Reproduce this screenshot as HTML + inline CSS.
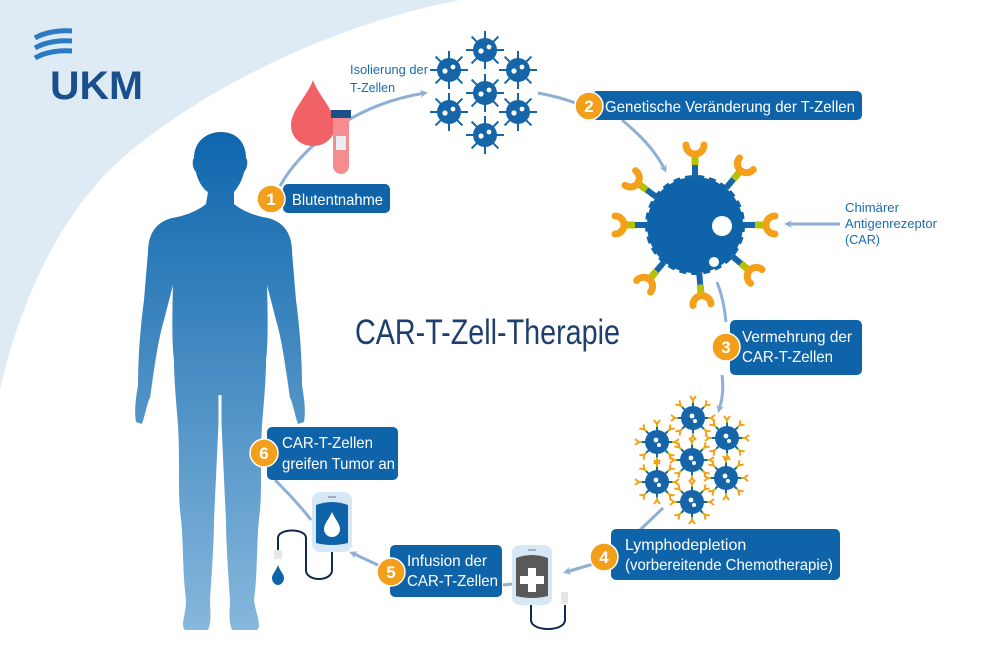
<!DOCTYPE html>
<html><head><meta charset="utf-8"><style>
html,body{margin:0;padding:0;background:#fff;}
svg{display:block;}
text{font-family:"Liberation Sans",sans-serif;}
.bt{fill:#fff;font-size:16px;}
.bn{fill:#fff;font-size:17px;font-weight:bold;}
.box{fill:#0f64a9;}
.badge{fill:#f2a01c;stroke:#fff;stroke-width:1.5;}
.ar{fill:none;stroke:#8eafd6;stroke-width:3;}
</style></head><body>
<svg width="1000" height="667" viewBox="0 0 1000 667" xmlns="http://www.w3.org/2000/svg">
<defs>
<linearGradient id="pg" x1="0" y1="0" x2="0" y2="1">
<stop offset="0" stop-color="#0e66ad"/><stop offset="1" stop-color="#86b7dc"/></linearGradient>
<marker id="ah" markerWidth="8" markerHeight="8" refX="5" refY="4" orient="auto" markerUnits="userSpaceOnUse">
<path d="M0,0 L8,4 L0,8 L3,4 Z" fill="#8eafd6"/></marker>
<g id="sc">
<g stroke="#1565a8" stroke-width="2">
<line x1="0" y1="-19" x2="0" y2="19"/><line x1="-19" y1="0" x2="19" y2="0"/>
<line x1="-13.4" y1="-13.4" x2="13.4" y2="13.4"/><line x1="13.4" y1="-13.4" x2="-13.4" y2="13.4"/>
</g>
<circle r="12" fill="#1565a8"/>
<circle cx="-4" cy="1" r="2.6" fill="#fff"/><circle cx="4" cy="-3" r="2.4" fill="#fff"/>
</g>
<g id="rc">
<path d="M0,-11 V-16" stroke="#1565a8" stroke-width="2"/>
<path d="M0,-15 V-18" stroke="#b5c200" stroke-width="2"/>
<path d="M-3,-22 L0,-18 L3,-22" stroke="#f5a01a" stroke-width="2" fill="none"/>
</g>
<g id="cc">
<use href="#rc"/><use href="#rc" transform="rotate(45)"/><use href="#rc" transform="rotate(90)"/><use href="#rc" transform="rotate(135)"/>
<use href="#rc" transform="rotate(180)"/><use href="#rc" transform="rotate(225)"/><use href="#rc" transform="rotate(270)"/><use href="#rc" transform="rotate(315)"/>
<circle r="12" fill="#1565a8"/>
<circle cx="-1" cy="-2" r="2.4" fill="#fff"/><circle cx="2" cy="3" r="2" fill="#fff"/>
</g>
<g id="rec">
<rect x="-3" y="-60" width="6" height="12" fill="#1565a8"/>
<rect x="-3.5" y="-70" width="7" height="10" fill="#b5c200"/>
<path d="M-9,-80 a9,9 0 0 0 18,0" stroke="#f5a01a" stroke-width="7" fill="none" stroke-linecap="round"/>
</g>
</defs>

<path d="M0,0 L460,0 C330,25 200,90 120,160 C60,215 20,300 0,390 Z" fill="#deebf5"/>

<g fill="none" stroke="#2b7bc4" stroke-width="5">
<path d="M35,38 C45,32 60,30 72,31"/><path d="M35,48 C45,42 60,40 72,41"/><path d="M35,58 C45,52 60,50 72,51"/>
</g>
<text x="50" y="99" font-size="40" font-weight="bold" fill="#1b4f8c" textLength="93" lengthAdjust="spacingAndGlyphs">UKM</text>

<path fill="url(#pg)" d="M221,132 C236,132 246,142 246,158 C248,160 248,168 244,172 C242,182 236,190 234,192 L234,204 C244,212 256,216 268,218 C284,222 292,234 292,252 L296,300 C300,330 302,360 302,385 C304,398 306,410 304,422 L298,424 C294,412 292,400 290,398 C286,370 282,340 276,320 L267,285 C268,320 268,345 266,360 C266,380 264,400 262,425 C260,460 262,490 260,510 C256,540 258,570 254,600 C256,615 262,625 257,630 L232,630 C228,620 230,610 230,600 C228,570 226,540 226,520 C224,480 222,430 220,395 C218,430 216,480 214,520 C214,540 212,570 210,600 C210,610 212,620 208,630 L185,630 C180,625 186,615 186,600 C182,570 184,540 180,510 C178,490 180,460 178,425 C176,400 174,380 174,360 C172,345 172,320 173,285 L164,320 C158,340 154,370 150,398 C148,400 146,412 142,424 L136,422 C134,410 136,398 138,385 C138,360 140,330 144,300 L148,252 C148,234 156,222 172,218 C184,216 196,212 206,204 L208,192 C204,190 198,182 196,172 C192,168 192,160 194,158 C194,142 206,132 221,132 Z"/>
<path d="M220,395 L220,630" stroke="#fff" stroke-width="3"/>

<path class="ar" d="M280,186 C300,150 350,105 425,93" marker-end="url(#ah)"/>
<path class="ar" d="M538,93 C555,96 568,100 578,104"/>
<path class="ar" d="M622,120 C640,135 655,150 665,170" marker-end="url(#ah)"/>
<path class="ar" d="M840,224 L787,224" marker-end="url(#ah)"/>
<path class="ar" d="M717,282 C722,295 725,310 726,322"/>
<path class="ar" d="M722,375 C724,390 722,400 719,410" marker-end="url(#ah)"/>
<path class="ar" d="M663,508 L640,530"/>
<path class="ar" d="M600,562 L566,572" marker-end="url(#ah)"/>
<path class="ar" d="M503,585 L512,584"/>
<path class="ar" d="M380,566 L352,553" marker-end="url(#ah)"/>
<path class="ar" d="M311,520 C300,505 285,490 275,480"/>

<path d="M313,80 C318,95 335,110 335,125 C335,138 325,146 313,146 C301,146 291,138 291,125 C291,110 308,95 313,80 Z" fill="#f06266"/>
<rect x="333" y="112" width="16" height="62" rx="8" fill="#f58c90"/>
<rect x="333" y="112" width="16" height="12" fill="#f58c90"/>
<rect x="331" y="110" width="20" height="8" fill="#1b4f8c"/>
<rect x="336" y="136" width="10" height="14" fill="#e8eef3"/>
<text x="350" y="74" font-size="13" fill="#1a6cb0" textLength="78" lengthAdjust="spacingAndGlyphs">Isolierung der</text>
<text x="350" y="92" font-size="13" fill="#1a6cb0" textLength="45" lengthAdjust="spacingAndGlyphs">T-Zellen</text>

<use href="#sc" x="485" y="50"/><use href="#sc" x="449" y="70"/><use href="#sc" x="518" y="70"/>
<use href="#sc" x="485" y="93"/><use href="#sc" x="449" y="112"/><use href="#sc" x="518" y="112"/>
<use href="#sc" x="485" y="135"/>

<g transform="translate(695,225)">
<use href="#rec"/><use href="#rec" transform="rotate(40)"/><use href="#rec" transform="rotate(90)"/><use href="#rec" transform="rotate(130)"/>
<use href="#rec" transform="rotate(175)"/><use href="#rec" transform="rotate(220)"/><use href="#rec" transform="rotate(270)"/><use href="#rec" transform="rotate(306)"/>
<circle r="48" fill="#0f64a9" stroke="#0f64a9" stroke-width="4" stroke-dasharray="7 5"/>
<circle cx="27" cy="1" r="10" fill="#fff"/>
<circle cx="19" cy="37" r="5" fill="#fff"/>
</g>
<text x="845" y="212" font-size="13" fill="#1a6cb0" textLength="54" lengthAdjust="spacingAndGlyphs">Chimärer</text>
<text x="845" y="228" font-size="13" fill="#1a6cb0" textLength="92" lengthAdjust="spacingAndGlyphs">Antigenrezeptor</text>
<text x="845" y="244" font-size="13" fill="#1a6cb0" textLength="35" lengthAdjust="spacingAndGlyphs">(CAR)</text>

<use href="#cc" x="693" y="418"/><use href="#cc" x="657" y="442"/><use href="#cc" x="727" y="438"/>
<use href="#cc" x="692" y="460"/><use href="#cc" x="657" y="482"/><use href="#cc" x="726" y="478"/>
<use href="#cc" x="692" y="502"/>

<text x="355" y="344" font-size="35" fill="#1d3e6e" textLength="265" lengthAdjust="spacingAndGlyphs">CAR-T-Zell-Therapie</text>

<g>
<rect x="512" y="545" width="40" height="60" rx="8" fill="#d6e8f5"/>
<rect x="528" y="549" width="8" height="2" fill="#aab"/>
<path d="M516,558 Q532,552 548,558 L548,596 Q532,600 516,596 Z" fill="#595959"/>
<path d="M528,568 h8 v8 h8 v8 h-8 v8 h-8 v-8 h-8 v-8 h8 Z" fill="#fff"/>
<path d="M531,605 V620 C531,632 565,632 565,620 V605" fill="none" stroke="#13284f" stroke-width="2"/>
<rect x="561" y="592" width="7" height="12" fill="#e6e6e6"/>
</g>
<g>
<rect x="312" y="492" width="40" height="60" rx="8" fill="#d6e8f5"/>
<rect x="328" y="496" width="8" height="2" fill="#aab"/>
<path d="M316,505 Q332,499 348,505 L348,543 Q332,547 316,543 Z" fill="#0f64a9"/>
<path d="M332,512 C335,519 340,524 340,529 C340,534 336,537 332,537 C328,537 324,534 324,529 C324,524 329,519 332,512 Z" fill="#fff"/>
<path d="M332,552 V570 C332,582 306,582 306,570 V538 C306,528 278,528 278,538 V550" fill="none" stroke="#13284f" stroke-width="2"/>
<rect x="274" y="550" width="8" height="9" fill="#e6e6e6"/>
<path d="M278,565 C280,571 284,574 284,578 C284,582 281,585 278,585 C275,585 272,582 272,578 C272,574 276,571 278,565 Z" fill="#0f64a9"/>
</g>

<rect class="box" x="283" y="184" width="107" height="29" rx="5"/>
<text class="bt" x="292" y="205" textLength="91" lengthAdjust="spacingAndGlyphs">Blutentnahme</text>
<circle class="badge" cx="271" cy="199" r="14"/><text class="bn" x="271" y="205" text-anchor="middle">1</text>

<rect class="box" x="592" y="91" width="270" height="29" rx="5"/>
<text class="bt" x="605" y="112" textLength="250" lengthAdjust="spacingAndGlyphs">Genetische Veränderung der T-Zellen</text>
<circle class="badge" cx="589" cy="106" r="14"/><text class="bn" x="589" y="112" text-anchor="middle">2</text>

<rect class="box" x="730" y="320" width="132" height="55" rx="5"/>
<text class="bt" x="742" y="342" textLength="110" lengthAdjust="spacingAndGlyphs">Vermehrung der</text>
<text class="bt" x="742" y="362" textLength="91" lengthAdjust="spacingAndGlyphs">CAR-T-Zellen</text>
<circle class="badge" cx="726" cy="347" r="14"/><text class="bn" x="726" y="353" text-anchor="middle">3</text>

<rect class="box" x="611" y="529" width="229" height="51" rx="5"/>
<text class="bt" x="625" y="550">Lymphodepletion</text>
<text class="bt" x="625" y="570" textLength="208" lengthAdjust="spacingAndGlyphs">(vorbereitende Chemotherapie)</text>
<circle class="badge" cx="604" cy="557" r="14"/><text class="bn" x="604" y="563" text-anchor="middle">4</text>

<rect class="box" x="390" y="545" width="112" height="52" rx="5"/>
<text class="bt" x="407" y="566" textLength="80" lengthAdjust="spacingAndGlyphs">Infusion der</text>
<text class="bt" x="407" y="586" textLength="91" lengthAdjust="spacingAndGlyphs">CAR-T-Zellen</text>
<circle class="badge" cx="391" cy="572" r="14"/><text class="bn" x="391" y="578" text-anchor="middle">5</text>

<rect class="box" x="267" y="427" width="131" height="53" rx="5"/>
<text class="bt" x="282" y="448" textLength="91" lengthAdjust="spacingAndGlyphs">CAR-T-Zellen</text>
<text class="bt" x="282" y="469" textLength="113" lengthAdjust="spacingAndGlyphs">greifen Tumor an</text>
<circle class="badge" cx="264" cy="453" r="14"/><text class="bn" x="264" y="459" text-anchor="middle">6</text>
</svg>
</body></html>
